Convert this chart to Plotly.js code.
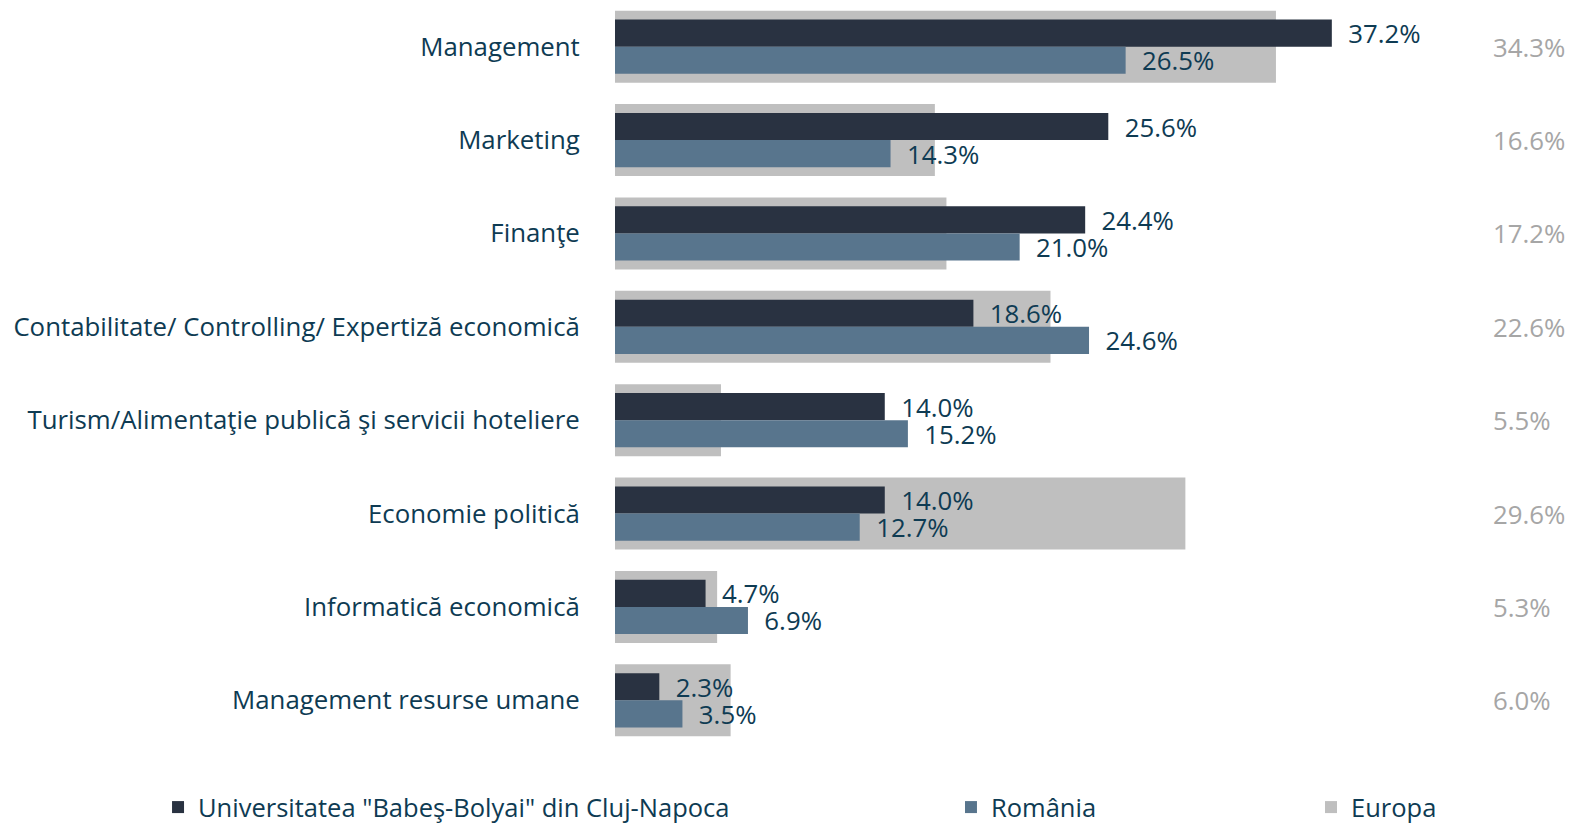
<!DOCTYPE html>
<html>
<head>
<meta charset="utf-8">
<script src="https://cdn.plot.ly/plotly-3.0.1.min.js"></script>
<style>html,body{margin:0;padding:0;background:#fff;}#chart{width:1570px;height:823px;}</style>
</head>
<body>
<div id="chart"></div>
<script>
const categories = [
  "Management",
  "Marketing",
  "Finanţe",
  "Contabilitate/ Controlling/ Expertiză economică",
  "Turism/Alimentaţie publică şi servicii hoteliere",
  "Economie politică",
  "Informatică economică",
  "Management resurse umane"
];
const ubbValues = [37.2, 25.6, 24.4, 18.6, 14.0, 14.0, 4.7, 2.3];
const romaniaValues = [26.5, 14.3, 21.0, 24.6, 15.2, 12.7, 6.9, 3.5];
const europaValues = [34.3, 16.6, 17.2, 22.6, 5.5, 29.6, 5.3, 6.0];
const seriesNames = ["Universitatea \"Babeş-Bolyai\" din Cluj-Napoca", "România", "Europa"];

const FONT = "'Open Sans', sans-serif";
const FS = 25.8;
const TXT = "#0e3b53";
const PAD = "\u00a0\u00a0";

const traces = [
  {
    type: "bar", orientation: "h", name: seriesNames[2],
    y: categories, x: europaValues,
    width: 0.77, offset: -0.385,
    marker: {color: "#bfbfbf"},
    hoverinfo: "skip", legend: "legend3"
  },
  {
    type: "bar", orientation: "h", name: seriesNames[0],
    y: categories, x: ubbValues,
    width: 0.29, offset: -0.29,
    marker: {color: "#293241"},
    text: ubbValues, texttemplate: PAD + "%{x:.1f}%", textposition: "outside",
    constraintext: "none", cliponaxis: false,
    textfont: {family: FONT, size: FS, color: TXT},
    legend: "legend"
  },
  {
    type: "bar", orientation: "h", name: seriesNames[1],
    y: categories, x: romaniaValues,
    width: 0.29, offset: 0,
    marker: {color: "#58758d"},
    text: romaniaValues, texttemplate: PAD + "%{x:.1f}%", textposition: "outside",
    constraintext: "none", cliponaxis: false,
    textfont: {family: FONT, size: FS, color: TXT},
    legend: "legend2"
  }
];

const annotations = categories.map((c, i) => ({
  xref: "paper", yref: "y", x: 0.917, y: c,
  xanchor: "left", yanchor: "middle",
  text: europaValues[i].toFixed(1) + "%",
  showarrow: false,
  font: {family: FONT, size: FS, color: "#a6a6a6"}
}));

const legendBase = {
  orientation: "h", yanchor: "middle", y: -0.081, xanchor: "left",
  font: {family: FONT, size: 25.5, color: TXT},
  bgcolor: "rgba(0,0,0,0)", borderwidth: 0
};

const layout = {
  width: 1570, height: 823,
  margin: {l: 615, r: 0, t: 0, b: 76, autoexpand: false},
  paper_bgcolor: "#ffffff", plot_bgcolor: "#ffffff",
  barmode: "overlay",
  font: {family: FONT, size: FS, color: TXT},
  xaxis: {range: [0, 49.56], visible: false, fixedrange: true},
  yaxis: {
    type: "category", autorange: "reversed",
    showgrid: false, zeroline: false, showline: false,
    ticks: "outside", ticklen: 29, tickcolor: "rgba(0,0,0,0)",
    tickfont: {family: FONT, size: FS, color: TXT},
    fixedrange: true
  },
  showlegend: true,
  legend: Object.assign({}, legendBase, {x: -0.4785}),
  legend2: Object.assign({}, legendBase, {x: 0.3518}),
  legend3: Object.assign({}, legendBase, {x: 0.7288}),
  annotations: annotations
};

Plotly.newPlot("chart", traces, layout, {displayModeBar: false, staticPlot: true});
</script>
</body>
</html>
